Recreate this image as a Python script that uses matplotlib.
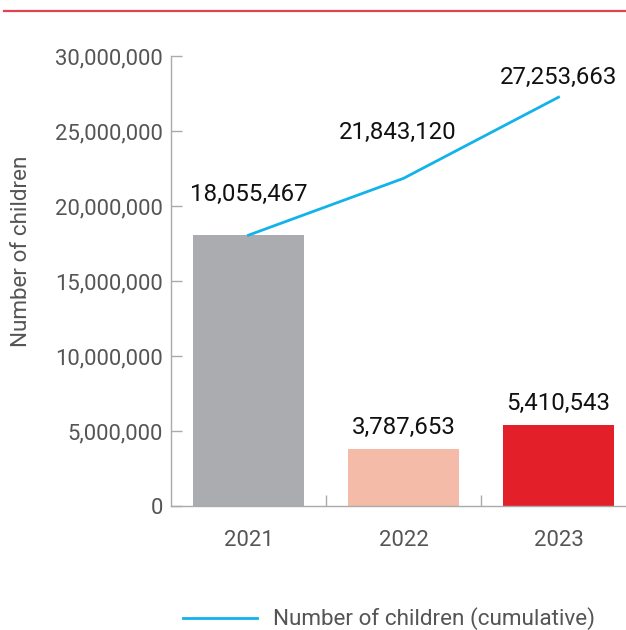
import matplotlib
matplotlib.use("Agg")
import matplotlib.pyplot as plt
from matplotlib.lines import Line2D
from matplotlib.ticker import FuncFormatter, FixedLocator

years = ["2021", "2022", "2023"]
annual = [18055467, 3787653, 5410543]
cumulative = [18055467, 21843120, 27253663]
bar_colors = ["#abacaf", "#f4bca8", "#e3202a"]
line_color = "#12b2ea"

plt.rcParams['font.family'] = ['Roboto', 'DejaVu Sans']

W, H = 626, 630
fig = plt.figure(figsize=(W / 100, H / 100), dpi=100)
ax = fig.add_axes([171 / W, 1 - 506 / H, 455 / W, 450 / H])

x = list(range(len(years)))
ax.bar(x, annual, width=0.72, color=bar_colors, zorder=2)
ax.plot(x, cumulative, color=line_color, lw=2, zorder=3,
        label="Number of children (cumulative)")

ax.set_xlim(-0.5, -0.5 + 455 / 155)
ax.set_ylim(0, 30000000)

spine_c = "#aaaaaa"
for s in ["top", "right"]:
    ax.spines[s].set_visible(False)
for s in ["left", "bottom"]:
    ax.spines[s].set_color(spine_c)
    ax.spines[s].set_linewidth(1.0)

ax.set_yticks(range(0, 30000001, 5000000))
ax.yaxis.set_major_formatter(FuncFormatter(lambda v, p: f"{int(v):,}"))
ax.tick_params(axis='y', direction='in', length=8, width=1, color=spine_c,
               labelsize=15.9, labelcolor="#555555", pad=6)

ax.set_xticks(x)
ax.set_xticklabels(years)
ax.xaxis.set_minor_locator(FixedLocator([0.5, 1.5]))
ax.tick_params(axis='x', which='major', length=0, labelsize=15.9,
               labelcolor="#555555", pad=17)
ax.tick_params(axis='x', which='minor', direction='in', length=8, width=1,
               color=spine_c)

ax.set_ylabel("Number of children", fontsize=16.2, color="#555555")
ax.yaxis.set_label_coords(-139 / 455, (506 - 251) / 450)

# value labels
txt_kw = dict(ha='center', va='center', fontsize=17.3, color="#111111")
ax.annotate(f"{cumulative[0]:,}", (x[0], cumulative[0]), xytext=(0, 29.5),
            textcoords='offset points', **txt_kw)
ax.annotate(f"{cumulative[1]:,}", (x[1], cumulative[1]), xytext=(-4, 33),
            textcoords='offset points', **txt_kw)
ax.annotate(f"{cumulative[2]:,}", (x[2], cumulative[2]), xytext=(0, 14.5),
            textcoords='offset points', **txt_kw)
for i in (1, 2):
    ax.annotate(f"{annual[i]:,}", (x[i], annual[i]), xytext=(0, 15.5),
                textcoords='offset points', **txt_kw)

# top red rule
fig.add_artist(Line2D([4 / W, 1], [1 - 11 / H, 1 - 11 / H],
                      transform=fig.transFigure, color="#e04351", lw=1.6))

leg = fig.legend(loc='center left', bbox_to_anchor=(183 / W, 1 - 619 / H),
                 frameon=False, fontsize=16.2, handlelength=3.3,
                 handletextpad=0.7, borderaxespad=0, borderpad=0)
for t in leg.get_texts():
    t.set_color("#555555")

fig.savefig("out.png", dpi=100)
